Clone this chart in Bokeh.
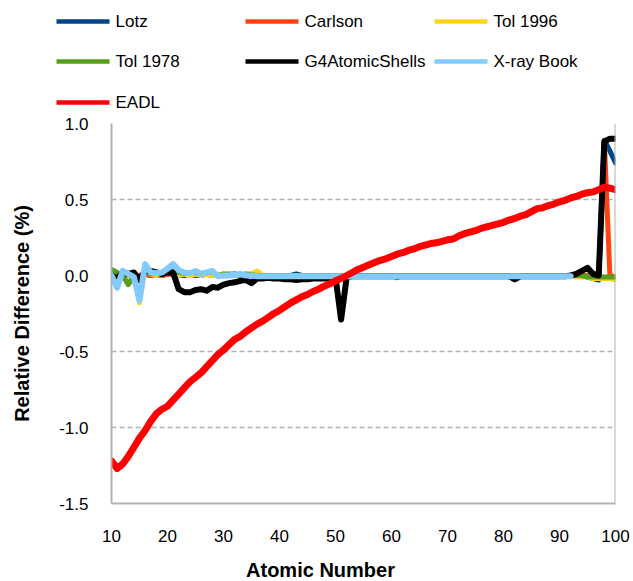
from bokeh.plotting import figure
from bokeh.models import Range1d, FixedTicker, Span
from bokeh.layouts import column
from bokeh.embed import file_html
from bokeh.resources import INLINE
from bokeh.core.properties import value

# ---------------- data ----------------
Z = [10, 11, 12, 13, 14, 15, 16, 17, 18, 19,
     20, 21, 22, 23, 24, 25, 26, 27, 28, 29,
     30, 31, 32, 33, 34, 35, 36, 37, 38, 39,
     40, 41, 42, 43, 44, 45, 46, 47, 48, 49,
     50, 51, 52, 53, 54, 55, 56, 57, 58, 59,
     60, 61, 62, 63, 64, 65, 66, 67, 68, 69,
     70, 71, 72, 73, 74, 75, 76, 77, 78, 79,
     80, 81, 82, 83, 84, 85, 86, 87, 88, 89,
     90, 91, 92, 93, 94, 95, 96, 97, 98, 99,
     100]

lotz = [0.01, 0.0, 0.01, 0.0, 0.0, -0.01, 0.01, 0.0, 0.01, 0.0,
        0.01, 0.01, 0.0, 0.0, 0.01, 0.0, 0.0, 0.01, 0.0, 0.0,
        0.0, 0.0, 0.01, 0.0, 0.0, 0.01, 0.0, 0.0, 0.0, 0.0,
        0.0, 0.0, 0.0, 0.01, 0.0, 0.0, 0.0, 0.0, 0.0, 0.0,
        0.0, 0.0, 0.0, 0.0, 0.0, 0.0, 0.0, 0.0, 0.0, 0.0,
        0.0, 0.0, 0.0, 0.0, 0.0, 0.0, 0.0, 0.0, 0.0, 0.0,
        0.0, 0.0, 0.0, 0.0, 0.0, 0.0, 0.0, 0.0, 0.0, 0.0,
        0.0, 0.0, 0.0, 0.0, 0.0, 0.0, 0.0, 0.0, 0.0, 0.0,
        0.0, 0.0, 0.0, 0.0, 0.0, -0.01, -0.02, -0.03, 0.89, 0.82,
        0.74]

carlson = [0.01, 0.0, 0.0, 0.0, 0.0, 0.0, 0.01, 0.0, 0.0, 0.0,
           0.01, 0.01, 0.01, 0.01, 0.01, 0.01, 0.01, 0.01, 0.01, 0.0,
           0.0, 0.0, 0.0, 0.0, 0.0, 0.0, 0.0, 0.0, 0.0, 0.0,
           0.0, 0.0, 0.0, 0.0, 0.0, 0.0, 0.0, 0.0, 0.0, 0.0,
           0.0, 0.0, 0.0, 0.0, 0.0, 0.0, 0.0, 0.0, 0.0, 0.0,
           0.0, 0.0, 0.0, 0.0, 0.0, 0.0, 0.0, 0.0, 0.0, 0.0,
           0.0, 0.0, 0.0, 0.0, 0.0, 0.0, 0.0, 0.0, 0.0, 0.0,
           0.0, 0.0, 0.0, 0.0, 0.0, 0.0, 0.0, 0.0, 0.0, 0.0,
           0.0, 0.0, 0.0, 0.0, 0.0, 0.0, -0.01, 0.0, 0.89, 0.0,
           -0.01]

tol1996 = [0.02, -0.06, 0.01, -0.02, 0.0, -0.18, 0.06, 0.01, 0.0, 0.01,
           0.02, 0.04, 0.0, 0.01, 0.0, 0.01, 0.0, 0.01, 0.0, 0.0,
           0.01, 0.0, 0.0, 0.0, 0.01, 0.01, 0.03, 0.0, 0.0, 0.0,
           0.0, 0.0, 0.0, 0.0, 0.0, 0.0, 0.0, 0.0, 0.0, 0.0,
           0.0, 0.0, 0.0, 0.0, 0.0, 0.0, 0.0, 0.0, 0.0, 0.0,
           0.0, 0.0, 0.0, 0.0, 0.0, 0.0, 0.0, 0.0, 0.0, 0.0,
           0.0, 0.0, 0.0, 0.0, 0.0, 0.0, 0.0, 0.0, 0.0, 0.0,
           0.0, 0.0, 0.0, 0.0, 0.0, 0.0, 0.0, 0.0, 0.0, 0.0,
           0.0, 0.0, 0.0, -0.01, -0.01, -0.01, -0.02, -0.02, -0.02, -0.02,
           -0.03]

tol1978 = [0.04, 0.02, 0.0, -0.06, 0.0, -0.02, 0.03, 0.01, 0.02, 0.01,
           0.02, 0.03, 0.02, 0.015, 0.02, 0.02, 0.01, 0.02, 0.025, 0.0,
           0.01, 0.01, 0.01, 0.0, 0.01, 0.005, 0.0, 0.0, 0.0, 0.0,
           0.0, 0.0, 0.0, 0.0, 0.0, 0.0, 0.0, 0.0, 0.0, 0.0,
           0.0, 0.0, 0.0, 0.0, 0.0, 0.0, 0.0, 0.0, 0.0, 0.0,
           0.0, -0.015, 0.0, 0.0, 0.0, 0.0, 0.0, 0.0, 0.0, 0.0,
           0.0, 0.0, 0.0, 0.0, 0.0, 0.0, 0.0, 0.0, 0.0, 0.0,
           0.0, 0.0, 0.0, 0.0, 0.0, 0.0, 0.0, 0.0, 0.0, 0.0,
           0.0, 0.0, 0.0, 0.0, 0.0, -0.01, -0.01, -0.01, -0.01, -0.01,
           -0.01]

g4 = [0.0, -0.02, 0.02, 0.01, 0.02, -0.03, 0.03, 0.03, 0.02, 0.01,
      0.02, 0.02, -0.09, -0.11, -0.11, -0.095, -0.09, -0.10, -0.075, -0.08,
      -0.06, -0.05, -0.045, -0.035, -0.03, -0.05, -0.02, -0.02, -0.015, -0.02,
      -0.02, -0.025, -0.025, -0.03, -0.025, -0.025, -0.02, -0.02, -0.02, -0.02,
      -0.01, -0.29, -0.01, -0.005, -0.005, -0.005, -0.005, -0.005, -0.005, -0.005,
      -0.005, -0.005, -0.005, -0.005, -0.005, -0.005, -0.005, -0.005, -0.005, -0.005,
      -0.005, -0.005, -0.005, -0.005, -0.005, -0.005, -0.005, -0.005, -0.005, -0.005,
      -0.005, -0.005, -0.025, -0.005, -0.005, -0.005, -0.005, -0.005, -0.005, -0.005,
      -0.005, -0.005, 0.0, 0.01, 0.03, 0.05, 0.01, 0.0, 0.88, 0.90,
      0.90]

Z_xray = [10, 11, 12, 13, 14, 15, 16, 17, 18, 19,
          20, 21, 22, 23, 24, 25, 26, 27, 28, 29,
          30, 31, 32, 33, 34, 35, 36, 37, 38, 39,
          40, 41, 42, 43, 44, 45, 46, 47, 48, 49,
          50, 51, 52, 53, 54, 55, 56, 57, 58, 59,
          60, 61, 62, 63, 64, 65, 66, 67, 68, 69,
          70, 71, 72, 73, 74, 75, 76, 77, 78, 79,
          80, 81, 82, 83, 84, 85, 86, 87, 88, 89,
          90, 91, 92]

xray = [0.0, -0.08, 0.03, 0.01, -0.01, -0.165, 0.075, 0.02, 0.015, 0.02,
        0.045, 0.075, 0.035, 0.02, 0.015, 0.03, 0.01, 0.02, 0.03, -0.005,
        0.0, 0.0, 0.005, 0.01, 0.0, 0.0, -0.005, -0.005, -0.005, -0.005,
        -0.005, -0.005, -0.005, -0.005, -0.005, -0.005, -0.005, -0.005, -0.005, -0.005,
        -0.005, -0.005, -0.005, -0.005, -0.005, -0.005, -0.005, -0.005, -0.005, -0.005,
        -0.005, -0.005, -0.005, -0.005, -0.005, -0.005, -0.005, -0.005, -0.005, -0.005,
        -0.005, -0.005, -0.005, -0.005, -0.005, -0.005, -0.005, -0.005, -0.005, -0.005,
        -0.005, -0.005, -0.005, -0.005, -0.005, -0.005, -0.005, -0.005, -0.005, -0.005,
        -0.005, -0.005, -0.005]

eadl = [-1.22, -1.27, -1.24, -1.19, -1.13, -1.07, -1.02, -0.96, -0.91, -0.88,
        -0.86, -0.82, -0.78, -0.74, -0.70, -0.67, -0.64, -0.60, -0.56, -0.52,
        -0.49, -0.455, -0.42, -0.40, -0.37, -0.345, -0.32, -0.30, -0.275, -0.25,
        -0.23, -0.205, -0.18, -0.16, -0.14, -0.125, -0.105, -0.09, -0.07, -0.055,
        -0.035, -0.02, 0.0, 0.02, 0.04, 0.055, 0.07, 0.085, 0.10, 0.11,
        0.125, 0.14, 0.15, 0.165, 0.175, 0.19, 0.20, 0.21, 0.215, 0.225,
        0.235, 0.24, 0.26, 0.275, 0.285, 0.295, 0.31, 0.32, 0.33, 0.34,
        0.35, 0.365, 0.375, 0.39, 0.40, 0.42, 0.44, 0.445, 0.46, 0.47,
        0.485, 0.495, 0.51, 0.52, 0.535, 0.545, 0.55, 0.565, 0.58, 0.575,
        0.565]

series_names = ["Lotz", "Carlson", "Tol 1996", "Tol 1978", "G4AtomicShells", "X-ray Book", "EADL"]
x_ticks = [10, 20, 30, 40, 50, 60, 70, 80, 90, 100]
y_ticks = [-1.5, -1.0, -0.5, 0.0, 0.5, 1.0]
y_tick_labels = ["-1.5", "-1.0", "-0.5", "0.0", "0.5", "1.0"]

# ---------------- styles ----------------
colors = ["#004586", "#ff420e", "#ffd320", "#579d1c", "#000000", "#83caff", "#ff0000"]
widths = [5, 5, 5, 5, 6, 6, 7]
FONT = "Liberation Sans"
W = 633

# ---------------- legend figure ----------------
LH = 116
leg = figure(width=W, height=LH, x_range=Range1d(0, W), y_range=Range1d(LH, 0),
             output_backend="svg", toolbar_location=None, min_border=0, frame_align=False)
leg.axis.visible = False
leg.grid.visible = False
leg.outline_line_color = None
col_x = [56, 245, 434]
row_y = [21, 61, 102]
for i, name in enumerate(series_names):
    cx = col_x[i % 3]
    ry = row_y[i // 3]
    leg.line([cx, cx + 53], [ry, ry], line_color=colors[i], line_width=4.5)
    leg.text([cx + 59], [ry], text=[name], text_baseline="middle", text_align="left",
             text_font=value(FONT), text_font_size="17px", text_color="#000000")

# ---------------- main figure ----------------
MH = 437
p = figure(width=W, height=MH, x_range=Range1d(10, 100), y_range=Range1d(-1.5, 1.0),
           output_backend="svg", toolbar_location=None, frame_align=False,
           min_border_left=111, min_border_right=18, min_border_top=7, min_border_bottom=50)
p.outline_line_color = None
p.background_fill_color = "white"

p.xgrid.visible = False
p.ygrid.ticker = FixedTicker(ticks=[-1.0, -0.5, 0.0, 0.5, 1.0])
p.ygrid.grid_line_color = "#b3b3b3"
p.ygrid.grid_line_dash = "5 3"
p.ygrid.grid_line_width = 1.5

p.xaxis.ticker = FixedTicker(ticks=x_ticks)
p.yaxis.ticker = FixedTicker(ticks=y_ticks)
p.yaxis.major_label_overrides = {v: s for v, s in zip(y_ticks, y_tick_labels)}
for ax in (p.xaxis[0], p.yaxis[0]):
    ax.axis_line_color = "#b3b3b3"
    ax.axis_line_width = 2
    ax.major_tick_line_color = None
    ax.minor_tick_line_color = None
    ax.major_tick_out = 0
    ax.major_tick_in = 0
    ax.major_label_text_font = FONT
    ax.major_label_text_font_size = "17px"
    ax.major_label_text_color = "#000000"
p.xaxis.major_label_standoff = 26
p.yaxis.major_label_standoff = 23
p.yaxis.axis_label = "Relative Difference (%)"
p.yaxis.axis_label_text_font = FONT
p.yaxis.axis_label_text_font_size = "20px"
p.yaxis.axis_label_text_font_style = "bold"
p.yaxis.axis_label_text_color = "#000000"
p.yaxis.axis_label_standoff = 23

p.add_layout(Span(location=100, dimension="height", line_color="#b3b3b3", line_width=2))

all_x = [Z, Z, Z, Z, Z, Z_xray, Z]
all_y = [lotz, carlson, tol1996, tol1978, g4, xray, eadl]
for i in range(7):
    p.line(all_x[i], all_y[i], line_color=colors[i], line_width=widths[i],
           line_join="round", line_cap="round")

# ---------------- x-axis title figure ----------------
TH = 581 - LH - MH
t = figure(width=W, height=TH, x_range=Range1d(0, W), y_range=Range1d(TH, 0),
           output_backend="svg", toolbar_location=None, min_border=0, frame_align=False)
t.axis.visible = False
t.grid.visible = False
t.outline_line_color = None
t.text([320], [16], text=["Atomic Number"], text_align="center", text_baseline="middle",
       text_font=value(FONT), text_font_size="20px", text_font_style="bold", text_color="#000000")

layout = column(leg, p, t, spacing=0)
open("out.html", "w").write(file_html(layout, INLINE))
